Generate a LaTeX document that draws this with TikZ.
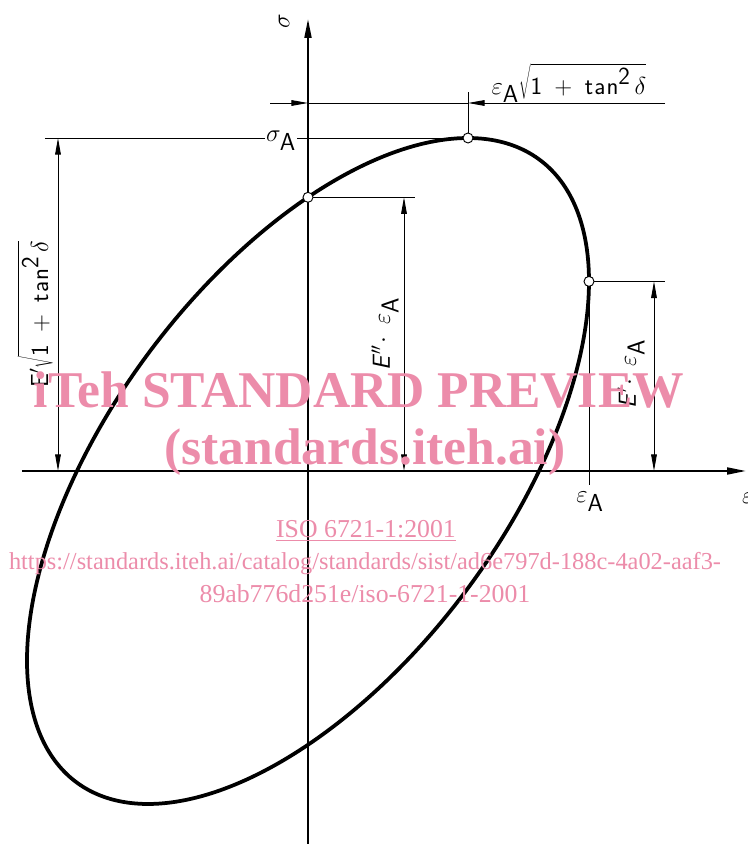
\RequirePackage{fix-cm}
\documentclass[tikz,border=0pt]{standalone}
\usepackage{fontspec}
\usetikzlibrary{arrows.meta}
\newfontfamily\wmserif{Liberation Serif}
\definecolor{wmpink}{RGB}{236,140,170}
\tikzset{
  axisline/.style={line width=2.4pt, -{Triangle[length=0.6cm, width=0.2cm]}},
  thinline/.style={line width=0.8pt},
  dimtip/.style={line width=0.8pt, -{Triangle[length=0.5cm, width=0.17cm]}},
  dimboth/.style={line width=0.8pt, {Triangle[length=0.5cm, width=0.17cm]}-{Triangle[length=0.5cm, width=0.17cm]}},
  hystcurve/.style={line width=3.2pt},
  pointring/.style={fill=white, draw=black, line width=0.8pt},
  lbl/.style={font=\fontsize{21}{24}\selectfont\sffamily, inner sep=1pt},
  wmbig/.style={text=wmpink, font=\fontsize{44}{48}\selectfont\wmserif\bfseries, anchor=base, inner sep=0pt},
  wmsmall/.style={text=wmpink, font=\fontsize{22}{24}\selectfont\wmserif, anchor=base, inner sep=0pt}
}
\newcommand{\rootterm}{\sqrt{\textsf{1\enspace+\enspace t\kern1pt a\kern1pt n}^{\textsf{2}}\,\delta}}
\begin{document}
\begin{tikzpicture}[x=0.03cm, y=0.03cm]
\useasboundingbox (-308,-373) rectangle (439,471);
\coordinate (O) at (0,0);
\coordinate (T) at (160,333);
\coordinate (S) at (0,273.7);
\coordinate (R) at (281,189.6);
\coordinate (ybot) at (0,-373);
\coordinate (ytop) at (0,453);
\coordinate (xleft) at (-286,0);
\coordinate (xright) at (439,0);
\draw[axisline] (ybot) -- (ytop);
\draw[axisline] (xleft) -- (xright);
\draw[hystcurve] plot[domain=0:360, samples=181, smooth] ({281*cos(\x)}, {333*cos(\x+55.3)});
\coordinate (topl) at (-38,368);
\coordinate (top0) at (0,368);
\coordinate (topT) at (160,368);
\coordinate (topr) at (357,368);
\coordinate (topext) at (160,379);
\draw[dimtip] (topl) -- (top0);
\draw[thinline] (top0) -- (topT);
\draw[dimtip] (topr) -- (topT);
\draw[thinline] (T) -- (topext);
\coordinate (sAl) at (-263,333);
\draw[thinline] (sAl) -- (T);
\coordinate (lefttop) at (-250,333);
\coordinate (leftbot) at (-250,0);
\draw[dimboth] (lefttop) -- (leftbot);
\coordinate (midext) at (107,273.7);
\coordinate (midtop) at (96,273.7);
\coordinate (midbot) at (96,0);
\draw[thinline] (S) -- (midext);
\draw[dimboth] (midtop) -- (midbot);
\coordinate (rgtext) at (357,189.6);
\coordinate (rgttop) at (346,189.6);
\coordinate (rgtbot) at (346,0);
\draw[thinline] (R) -- (rgtext);
\draw[dimboth] (rgttop) -- (rgtbot);
\coordinate (epsext) at (281,-14);
\draw[thinline] (R) -- (epsext);
\filldraw[pointring] (T) circle [radius=0.15cm];
\filldraw[pointring] (S) circle [radius=0.15cm];
\filldraw[pointring] (R) circle [radius=0.15cm];
\node (lbltop) [lbl] at (261,388) {$\varepsilon_{\textsf{A}}\rootterm$};
\node (lblsigA) [lbl, fill=white] at (-27,330) {$\sigma_{\textsf{A}}$};
\node (lblleft) [lbl, rotate=90] at (-273,157) {\textsf{E}$'\rootterm$};
\node (lblmid) [lbl, rotate=90] at (77,137) {\textsl{E}$''\!\cdot\;\varepsilon_{\textsf{A}}$};
\node (lblrgt) [lbl, rotate=90] at (323,97) {\textsl{E}$'\!\cdot\;\varepsilon_{\textsf{A}}$};
\node (lblepsA) [lbl] at (282,-31) {$\varepsilon_{\textsf{A}}$};
\node (lbleps) [lbl, anchor=west, inner sep=0pt] at (434,-27) {$\varepsilon$};
\node (lblsig) [lbl, rotate=90] at (-24,450) {$\sigma$};
\node (wmone) [wmbig] at (51,63) {iTeh STANDARD PREVIEW};
\node (wmtwo) [wmbig] at (57,6) {(standards.iteh.ai)};
\node (wmthree) [wmsmall] at (58,-67) {\underline{ISO 6721-1:2001}};
\node (wmfour) [wmsmall, font=\fontsize{20.8}{24}\selectfont\wmserif] at (57,-99) {https://standards.iteh.ai/catalog/standards/sist/ad6e797d-188c-4a02-aaf3-};
\node (wmfive) [wmsmall] at (57,-131) {89ab776d251e/iso-6721-1-2001};
\end{tikzpicture}
\end{document}
